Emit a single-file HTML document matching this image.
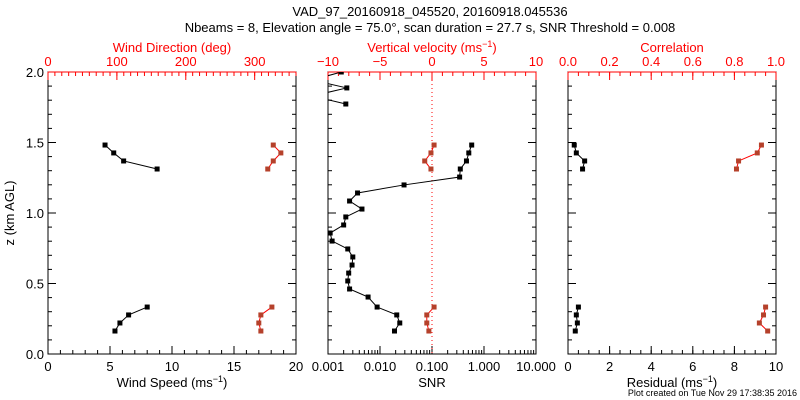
<!DOCTYPE html>
<html><head><meta charset="utf-8"><style>
body{margin:0;background:#fff}
svg{display:block;font-family:"Liberation Sans",sans-serif}
</style></head><body>
<svg id="c" width="800" height="400">
<text x="430" y="16" font-size="13" text-anchor="middle">VAD_97_20160918_045520, 20160918.045536</text>
<text x="430" y="32" font-size="13" text-anchor="middle">Nbeams = 8, Elevation angle = 75.0°, scan duration = 27.7 s, SNR Threshold = 0.008</text>
<text x="14" y="213" font-size="13" text-anchor="middle" transform="rotate(-90 14 213)">z (km AGL)</text>
<text x="797" y="396" font-size="9" text-anchor="end">Plot created on Tue Nov 29 17:38:35 2016</text>
</svg>
<script>
// heights (km)
const zUpper=[1.482,1.426,1.369,1.312];
const zLower=[0.333,0.277,0.220,0.163];
const windSpeedUpper=[4.6,5.3,6.1,8.8];
const windSpeedLower=[8.0,6.5,5.8,5.4];
const windDirUpper=[327,338,327,319];
const windDirLower=[325,309,306,309];
const zSnrTop=[2.0,1.943,1.887,1.83,1.773];
const snrTop=[0.0018,0.0005,0.0023,0.0005,0.0022];
const zSnr=[1.482,1.426,1.369,1.312,1.255,1.199,1.142,1.085,1.028,0.972,0.915,0.858,0.801,0.745,0.688,0.631,0.574,0.518,0.461,0.404,0.333,0.277,0.220,0.163];
const snrVals=[0.58,0.51,0.46,0.35,0.34,0.029,0.0037,0.0026,0.0045,0.0022,0.002,0.0011,0.0012,0.0024,0.0030,0.0029,0.0025,0.0024,0.0026,0.0059,0.0088,0.021,0.024,0.019];
const wUpper=[0.2,-0.1,-0.7,-0.1];
const wLower=[0.2,-0.5,-0.5,-0.3];
const resUpper=[0.3,0.4,0.8,0.7];
const resLower=[0.5,0.4,0.45,0.35];
const corrUpper=[0.93,0.91,0.82,0.81];
const corrLower=[0.95,0.94,0.92,0.96];

const svg=document.getElementById('c');
const NS='http://www.w3.org/2000/svg';
function el(t,a,p){const e=document.createElementNS(NS,t);for(const k in a)e.setAttribute(k,a[k]);(p||svg).appendChild(e);return e;}
const Y0=354,Y1=72;
const zy=z=>Y0-(z/2)*(Y0-Y1);
const RED='#ff0000',DRED='#b5412b';
function lin(d0,d1,x0,x1){return v=>x0+(v-d0)/(d1-d0)*(x1-x0);}

function panel(name,x0,x1){
  const g=el('g',{});
  
  
  const r=el('rect',{x:x0,y:Y1,width:x1-x0,height:Y0-Y1,fill:'none',stroke:'#000','stroke-width':1},g);
  
  
  for(let i=0;i<=20;i++){
    const z=i/10,y=zy(z),len=(i%5==0)?8:4;
    el('line',{x1:x0,x2:x0+len,y1:y,y2:y,stroke:'#000'},g);
    el('line',{x1:x1,x2:x1-len,y1:y,y2:y,stroke:'#000'},g);
  }
  return g;
}
function ticksBottom(g,sc,minors,majors,labels,name){
  minors.forEach(v=>el('line',{x1:sc(v),x2:sc(v),y1:Y0,y2:Y0-4,stroke:'#000'},g));
  majors.forEach((v,i)=>{
    el('line',{x1:sc(v),x2:sc(v),y1:Y0,y2:Y0-8,stroke:'#000'},g);
    const t=el('text',{x:sc(v),y:371,'font-size':13,'text-anchor':'middle'},g);t.textContent=labels[i];
    
    
  });
}
function ticksTop(g,sc,minors,majors,labels,name){
  el('line',{x1:sc(majors[0]),x2:sc(majors[majors.length-1]),y1:Y1,y2:Y1,stroke:RED},g);
  minors.forEach(v=>el('line',{x1:sc(v),x2:sc(v),y1:Y1,y2:Y1+4,stroke:RED},g));
  majors.forEach((v,i)=>{
    el('line',{x1:sc(v),x2:sc(v),y1:Y1,y2:Y1+8,stroke:RED},g);
    const t=el('text',{x:sc(v),y:66,'font-size':13,'text-anchor':'middle',fill:RED},g);t.textContent=labels[i];
    
    
  });
}
function title(g,x,y,txt,fill,name,sup,after){
  const t=el('text',{x:x,y:y,'font-size':13,'text-anchor':'middle',fill:fill},g);
  t.textContent=txt;
  if(sup){const s=el('tspan',{dy:-5,'font-size':9},t);s.textContent=sup;const a=el('tspan',{dy:5},t);a.textContent=after;}
  
  
}
function series(g,xs,zs,sx,color,lc,name,clip){
  const pts=xs.map((v,i)=>[sx(v),zy(zs[i])]);
  const gg=el('g',clip?{'clip-path':'url(#'+clip+')'}:{},g);
  
  
  el('polyline',{points:pts.map(p=>p.join(',')).join(' '),fill:'none',stroke:lc,'stroke-width':1},gg);
  pts.forEach(p=>el('rect',{x:p[0]-2.5,y:p[1]-2.5,width:5,height:5,fill:color},gg));
}
function range(a,b,s){const r=[];for(let v=a;v<=b+1e-9;v+=s)r.push(+v.toFixed(6));return r;}

// Panel 1
let g=panel('wind-panel',48,296);
const sWs=lin(0,20,48,296), sWd=lin(0,360,48,296);
ticksBottom(g,sWs,range(0,20,1),[0,5,10,15,20],['0','5','10','15','20'],'wind-speed');
ticksTop(g,sWd,range(0,360,10),[0,100,200,300],['0','100','200','300'],'wind-dir');
el('line',{x1:sWd(300),x2:296,y1:Y1,y2:Y1,stroke:RED},g);
const yl=['0.0','0.5','1.0','1.5','2.0'];
yl.forEach((l,i)=>{const t=el('text',{x:44,y:zy(i*0.5)+5,'font-size':13,'text-anchor':'end'},g);t.textContent=l;});
title(g,172,387,'Wind Speed (ms','#000','wind-speed-axis-title','−1',')');
title(g,172,52,'Wind Direction (deg)',RED,'wind-direction-axis-title');
series(g,windSpeedUpper,zUpper,sWs,'#000','#000','wind-speed-upper');
series(g,windSpeedLower,zLower,sWs,'#000','#000','wind-speed-lower');
series(g,windDirUpper,zUpper,sWd,DRED,RED,'wind-direction-upper');
series(g,windDirLower,zLower,sWd,DRED,RED,'wind-direction-lower');

// Panel 2
g=panel('snr-panel',328,536);
const defs=el('defs',{});
const cp=el('clipPath',{id:'clip2'},defs);el('rect',{x:328,y:Y1,width:208,height:Y0-Y1},cp);
const sSnr=v=>328+(Math.log10(v)+3)*52;
const minL=[];for(let d=-3;d<1;d++)for(let k=2;k<=9;k++)minL.push(k*Math.pow(10,d));
ticksBottom(g,sSnr,minL,[0.001,0.01,0.1,1,10],['0.001','0.010','0.100','1.000','10.000'],'snr');
const sW=lin(-10,10,328,536);
ticksTop(g,sW,range(-10,10,1),[-10,-5,0,5,10],['−10','−5','0','5','10'],'vertical-velocity');
el('line',{x1:sW(0),x2:sW(0),y1:Y1,y2:Y0,stroke:RED,'stroke-dasharray':'1,3'},g);
title(g,432,387,'SNR','#000','snr-axis-title');
title(g,432,52,'Vertical velocity (ms',RED,'vertical-velocity-axis-title','−1',')');
series(g,snrTop,zSnrTop,sSnr,'#000','#000','snr-profile-top','clip2');
series(g,snrVals,zSnr,sSnr,'#000','#000','snr-profile','clip2');
series(g,wUpper,zUpper,sW,DRED,RED,'vertical-velocity-upper');
series(g,wLower,zLower,sW,DRED,RED,'vertical-velocity-lower');

// Panel 3
g=panel('residual-panel',568,776);
const sR=lin(0,10,568,776), sC=lin(0,1,568,776);
ticksBottom(g,sR,range(0,10,0.5),[0,2,4,6,8,10],['0','2','4','6','8','10'],'residual');
ticksTop(g,sC,range(0,1,0.05),[0,0.2,0.4,0.6,0.8,1],['0.0','0.2','0.4','0.6','0.8','1.0'],'correlation');
title(g,672,387,'Residual (ms','#000','residual-axis-title','−1',')');
title(g,672,52,'Correlation',RED,'correlation-axis-title');
series(g,resUpper,zUpper,sR,'#000','#000','residual-upper');
series(g,resLower,zLower,sR,'#000','#000','residual-lower');
series(g,corrUpper,zUpper,sC,DRED,RED,'correlation-upper');
series(g,corrLower,zLower,sC,DRED,RED,'correlation-lower');
</script>
</body></html>
